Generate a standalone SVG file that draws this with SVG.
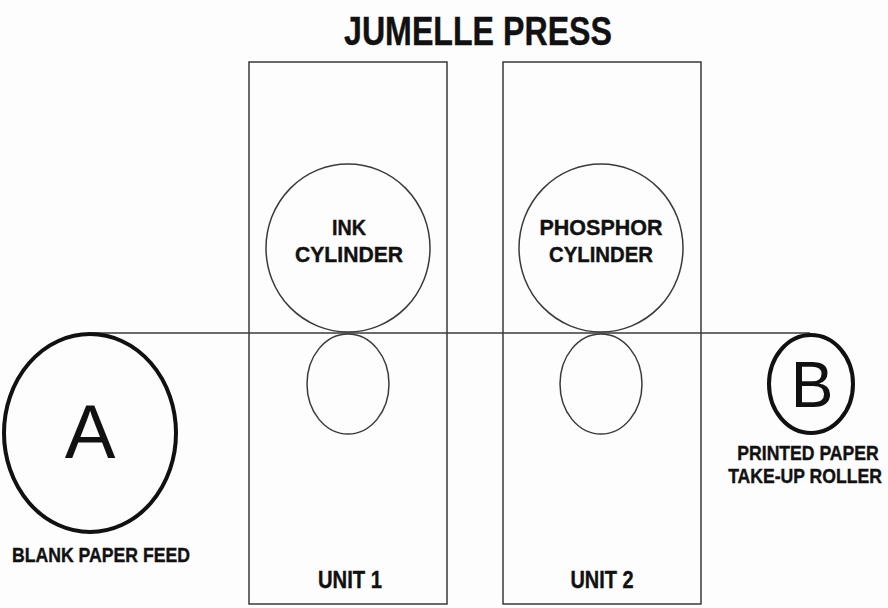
<svg xmlns="http://www.w3.org/2000/svg" width="888" height="608" viewBox="0 0 888 608">
<style>
.thin{fill:none;stroke:#3a3a3a;stroke-width:1.5}
.thick{fill:none;stroke:#111;stroke-width:4}
.lbl{font-family:"Liberation Sans",Arial,sans-serif;font-weight:bold;fill:#111;text-anchor:middle;stroke:#111;stroke-width:0.4}
.big{font-family:"Liberation Sans",Arial,sans-serif;fill:#111;text-anchor:middle}
</style>
<rect width="888" height="608" fill="#fdfdfd"/>
<text class="lbl" x="478" y="45" font-size="40" textLength="268" lengthAdjust="spacingAndGlyphs">JUMELLE PRESS</text>
<g id="connectors">
<line class="thin" x1="92" y1="333" x2="810" y2="333"/>
</g>
<g id="unit1">
<rect class="thin" x="249" y="62" width="198" height="542"/>
<text class="lbl" x="350" y="588" font-size="24" textLength="64" lengthAdjust="spacingAndGlyphs">UNIT 1</text>
</g>
<g id="unit2">
<rect class="thin" x="503" y="62" width="198" height="542"/>
<text class="lbl" x="602" y="588" font-size="24" textLength="63" lengthAdjust="spacingAndGlyphs">UNIT 2</text>
</g>
<g id="ink-cylinder">
<ellipse class="thin" cx="348" cy="248" rx="82" ry="84"/>
<text class="lbl" x="349" y="235" font-size="22" textLength="34" lengthAdjust="spacingAndGlyphs">INK</text>
<text class="lbl" x="349" y="262" font-size="22" textLength="108" lengthAdjust="spacingAndGlyphs">CYLINDER</text>
</g>
<g id="ink-roller">
<ellipse class="thin" cx="348" cy="384" rx="41" ry="50"/>
</g>
<g id="phosphor-cylinder">
<ellipse class="thin" cx="601" cy="248" rx="82" ry="84"/>
<text class="lbl" x="601" y="235" font-size="22" textLength="123" lengthAdjust="spacingAndGlyphs">PHOSPHOR</text>
<text class="lbl" x="601" y="262" font-size="22" textLength="104" lengthAdjust="spacingAndGlyphs">CYLINDER</text>
</g>
<g id="phosphor-roller">
<ellipse class="thin" cx="601" cy="384" rx="41" ry="50"/>
</g>
<g id="roller-a">
<ellipse class="thick" cx="90" cy="433" rx="86" ry="99"/>
<text class="big" x="90" y="458" font-size="76">A</text>
<text class="lbl" x="101" y="562" font-size="21" textLength="178" lengthAdjust="spacingAndGlyphs">BLANK PAPER FEED</text>
</g>
<g id="roller-b">
<ellipse class="thick" cx="811" cy="384" rx="42" ry="49" stroke-width="3.5"/>
<text class="big" x="812" y="407" font-size="64">B</text>
<text class="lbl" transform="translate(808,460) scale(0.88,1)" x="0" y="0" font-size="20">PRINTED PAPER</text>
<text class="lbl" transform="translate(805,483) scale(0.88,1)" x="0" y="0" font-size="20">TAKE-UP ROLLER</text>
</g>
</svg>
